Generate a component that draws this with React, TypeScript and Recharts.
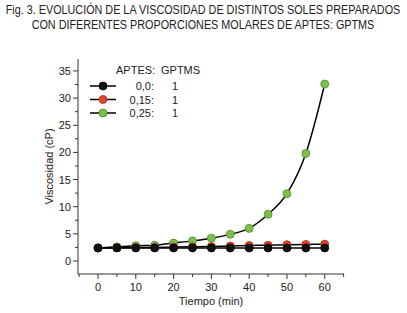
import React from "react";
import {
  Label,
  Line,
  LineChart,
  XAxis,
  YAxis,
} from "recharts";

const tiempos = [0, 5, 10, 15, 20, 25, 30, 35, 40, 45, 50, 55, 60];
const aptes00 = [2.4, 2.4, 2.4, 2.4, 2.4, 2.4, 2.4, 2.4, 2.4, 2.4, 2.4, 2.4, 2.4];
const aptes015 = [2.4, 2.45, 2.5, 2.5, 2.55, 2.6, 2.65, 2.75, 2.85, 2.9, 3.0, 3.05, 3.1];
const aptes025 = [2.4, 2.6, 2.8, 2.9, 3.3, 3.7, 4.2, 4.9, 6.0, 8.6, 12.4, 19.8, 32.6];

const xTicks = [-5, 0, 5, 10, 15, 20, 25, 30, 35, 40, 45, 50, 55, 60, 65];
const xMajor = [0, 10, 20, 30, 40, 50, 60];
const yTicks = [0, 2.5, 5, 7.5, 10, 12.5, 15, 17.5, 20, 22.5, 25, 27.5, 30, 32.5, 35];
const yMajor = [0, 5, 10, 15, 20, 25, 30, 35];

const tituloLinea1 = "Fig. 3. EVOLUCIÓN DE LA VISCOSIDAD DE DISTINTOS SOLES PREPARADOS";
const tituloLinea2 = "CON DIFERENTES PROPORCIONES MOLARES DE APTES: GPTMS";

const series = [
  { key: "a00", aptes: "0,0:", gptms: "1", fill: "#111111", stroke: "#000000" },
  { key: "a015", aptes: "0,15:", gptms: "1", fill: "#e2432b", stroke: "#a8301c" },
  { key: "a025", aptes: "0,25:", gptms: "1", fill: "#7cc04a", stroke: "#4f8a30" },
];

const data = tiempos.map((t, i) => ({
  t,
  a00: aptes00[i],
  a015: aptes015[i],
  a025: aptes025[i],
}));

const font = "'Liberation Sans', Arial, sans-serif";

function XTick(props: any) {
  const { x, y, payload } = props;
  const major = xMajor.includes(payload.value);
  return (
    <g>
      <line x1={x} x2={x} y1={y} y2={y + (major ? 5 : 3)} stroke="#333" strokeWidth={1} />
      {major && (
        <text x={x} y={y + 17} textAnchor="middle" fontSize={11} fill="#222" fontFamily={font}>
          {payload.value}
        </text>
      )}
    </g>
  );
}

function YTick(props: any) {
  const { x, y, payload } = props;
  const major = yMajor.includes(payload.value);
  return (
    <g>
      <line x1={x} x2={x - (major ? 5 : 3)} y1={y} y2={y} stroke="#333" strokeWidth={1} />
      {major && (
        <text x={x - 7} y={y + 4} textAnchor="end" fontSize={11} fill="#222" fontFamily={font}>
          {payload.value}
        </text>
      )}
    </g>
  );
}

function Leyenda() {
  return (
    <svg width={120} height={56} style={{ position: "absolute", left: 88, top: 64, overflow: "visible" }}>
      <text x={28} y={10} fontSize={11} fill="#222" fontFamily={font}>APTES:</text>
      <text x={73} y={10} fontSize={11} fill="#222" fontFamily={font}>GPTMS</text>
      {series.map((s, i) => {
        const cy = 22 + i * 13.5;
        return (
          <g key={s.key}>
            <line x1={2} x2={28} y1={cy} y2={cy} stroke="#000" strokeWidth={1.5} />
            <circle cx={15} cy={cy} r={4} fill={s.fill} stroke={s.stroke} strokeWidth={0.8} />
            <text x={66} y={cy + 4} textAnchor="end" fontSize={11} fill="#222" fontFamily={font}>
              {s.aptes}
            </text>
            <text x={87} y={cy + 4} textAnchor="middle" fontSize={11} fill="#222" fontFamily={font}>
              {s.gptms}
            </text>
          </g>
        );
      })}
    </svg>
  );
}

// wider than the page so the centred line never overflows to one side
const tituloStyle: React.CSSProperties = {
  position: "absolute",
  left: -97,
  width: 600,
  textAlign: "center",
  whiteSpace: "nowrap",
  fontFamily: font,
  fontSize: 12,
  lineHeight: "14px",
  color: "#222",
  transform: "scaleX(0.9)",
  transformOrigin: "center",
};

export default function App() {
  const order = [series[2], series[1], series[0]];
  return (
    <div style={{ position: "absolute", left: 0, top: 0, width: 407, height: 313, background: "#fff", overflow: "hidden" }}>
      <LineChart
        width={407}
        height={313}
        data={data}
        margin={{ top: 59, right: 63, bottom: 0, left: 28 }}
      >
        <XAxis
          dataKey="t"
          type="number"
          domain={[-5.3, 65.1]}
          ticks={xTicks}
          interval={0}
          height={39}
          tickSize={0}
          tickMargin={0}
          tickLine={false}
          axisLine={{ stroke: "#333", strokeWidth: 1 }}
          tick={<XTick />}
          allowDataOverflow
        >
          <Label
            value="Tiempo (min)"
            position="center"
            dy={8}
            style={{ fontSize: 11, fill: "#222", fontFamily: font }}
          />
        </XAxis>
        <XAxis
          xAxisId="top"
          dataKey="t"
          type="number"
          orientation="top"
          domain={[-5.3, 65.1]}
          height={0}
          tick={false}
          tickLine={false}
          axisLine={{ stroke: "#666", strokeWidth: 1 }}
        />
        <YAxis
          type="number"
          domain={[-2.4, 37.2]}
          ticks={yTicks}
          interval={0}
          width={50}
          tickSize={0}
          tickMargin={0}
          tickLine={false}
          axisLine={{ stroke: "#333", strokeWidth: 1 }}
          tick={<YTick />}
          allowDataOverflow
        >
          <Label
            value="Viscosidad (cP)"
            angle={-90}
            position="center"
            dx={-4}
            style={{ fontSize: 11, fill: "#222", fontFamily: font, textAnchor: "middle" }}
          />
        </YAxis>
        <YAxis
          yAxisId="right"
          orientation="right"
          domain={[-2.4, 37.2]}
          width={0}
          tick={false}
          tickLine={false}
          axisLine={{ stroke: "#666", strokeWidth: 1 }}
        />
        {order.map((s) => (
          <Line
            key={s.key}
            dataKey={s.key}
            type="monotone"
            stroke="#000"
            strokeWidth={1.5}
            dot={{ r: 4, fill: s.fill, stroke: s.stroke, strokeWidth: 0.8 }}
            activeDot={false}
            isAnimationActive={false}
          />
        ))}
      </LineChart>
      <div style={{ ...tituloStyle, top: 3 }}>{tituloLinea1}</div>
      <div style={{ ...tituloStyle, top: 18 }}>{tituloLinea2}</div>
      <Leyenda />
    </div>
  );
}
